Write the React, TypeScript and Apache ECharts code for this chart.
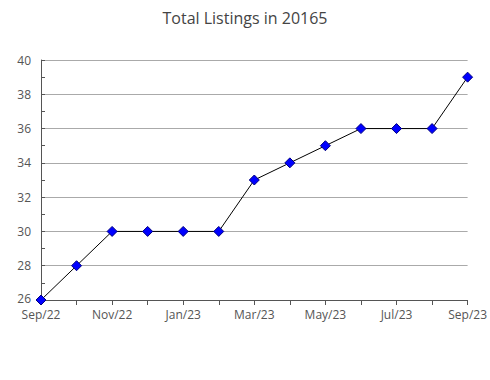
import React, { useEffect, useRef } from "react";
import * as echarts from "echarts";

const titleText = "Total Listings in 20165";
const categories = ["Sep/22", "Oct/22", "Nov/22", "Dec/22", "Jan/23", "Feb/23", "Mar/23", "Apr/23", "May/23", "Jun/23", "Jul/23", "Aug/23", "Sep/23"];
const listings = [26, 28, 30, 30, 30, 30, 33, 34, 35, 36, 36, 36, 39];
const yMin = 26;
const yMax = 40;
const yInterval = 2;

export default function App() {
  const ref = useRef<HTMLDivElement>(null);
  useEffect(() => {
    if (!ref.current) return;
    const chart = echarts.init(ref.current, null, { renderer: "svg" });
    const font = "'Open Sans', 'Noto Sans', sans-serif";
    chart.setOption({
      animation: false,
      title: {
        text: titleText,
        left: "center",
        top: 5,
        textStyle: { fontFamily: font, fontSize: 16, fontWeight: "normal", color: "#444" },
      },
      grid: { left: 41, right: 20, top: 60, bottom: 80, containLabel: false },
      xAxis: {
        type: "category",
        data: categories,
        boundaryGap: false,
        axisLine: { lineStyle: { color: "#555", width: 1 } },
        axisTick: { show: true, interval: 0, length: 5, lineStyle: { color: "#555" } },
        axisLabel: { interval: 1, color: "#555", fontFamily: font, fontSize: 12, lineHeight: 12, margin: 8 },
        splitLine: { show: false },
      },
      yAxis: {
        type: "value",
        min: yMin,
        max: yMax,
        interval: yInterval,
        axisLine: { show: true, lineStyle: { color: "#555", width: 1 } },
        axisTick: { show: true, inside: true, length: 4, lineStyle: { color: "#555" } },
        minorTick: { show: true, splitNumber: 2, length: 4, lineStyle: { color: "#555" } },
        axisLabel: {
          color: "#555",
          fontFamily: font,
          fontSize: 12,
          lineHeight: 12,
          margin: 10,
          formatter: (v: number) => (v === yMin ? "{low|" + v + "}" : String(v)),
          rich: { low: { color: "#555", fontFamily: font, fontSize: 12, lineHeight: 12, padding: [0, 0, 3, 0] } },
        },
        splitLine: { show: true, lineStyle: { color: "#aaa", width: 1 } },
      },
      series: [
        {
          type: "line",
          data: listings,
          symbol: "diamond",
          symbolSize: 10,
          lineStyle: { color: "#000", width: 1 },
          itemStyle: { color: "#0000ff", borderColor: "#000080", borderWidth: 1 },
        },
      ],
    });
    return () => chart.dispose();
  }, []);
  return <div ref={ref} style={{ width: 490, height: 380, position: "absolute", left: 0, top: 0 }} />;
}
